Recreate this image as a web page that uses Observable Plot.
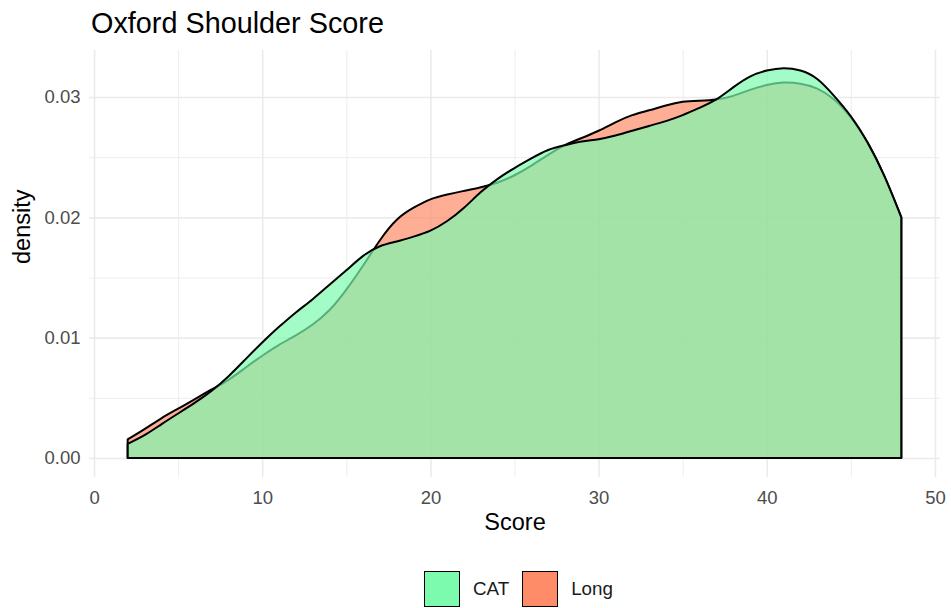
<!DOCTYPE html>
<html>
<head>
<meta charset="utf-8">
<script src="https://cdn.jsdelivr.net/npm/d3@7"></script>
<script src="https://cdn.jsdelivr.net/npm/@observablehq/plot@0.6"></script>
<style>
  body { margin: 0; background: #fff; font-family: "Liberation Sans", Arial, Helvetica, sans-serif; width: 951px; height: 608px; position: relative; overflow: hidden; }
  #title { position: absolute; left: 91px; top: 9px; font-size: 28.8px; line-height: 28.8px; color: #000; white-space: nowrap; }
  #chart { position: absolute; left: 0; top: 44px; }
  #legend { position: absolute; top: 571px; left: 424px; display: flex; align-items: center; font-size: 18.8px; color: #1a1a1a; }
  .key { width: 34px; height: 34px; border: 1.6px solid #000; }
  .lab { margin-left: 13px; margin-right: 13px; }
</style>
</head>
<body>
<div id="title">Oxford Shoulder Score</div>
<div id="chart"></div>
<div id="legend"></div>
<script>
// ---- data ----
const groups = ["CAT", "Long"];
const groupColors = ["#7CFAAE", "#FF8C69"];
const score = [2, 3, 4, 5, 6, 7, 8, 9, 10, 11, 12, 13, 14, 15, 16, 17, 18, 19, 20, 21, 22, 23, 24, 25,
  26, 27, 28, 29, 30, 31, 32, 33, 34, 35, 36, 37, 38, 39, 40, 41, 42, 43, 44, 45, 46, 47, 48];
const densityCAT = [0.00118, 0.0019, 0.0028, 0.0037, 0.0046, 0.0056, 0.0068, 0.0082, 0.0096, 0.0109,
  0.0121, 0.0132, 0.0144, 0.0156, 0.0168, 0.0176, 0.0180, 0.0184, 0.0189, 0.0197, 0.0208, 0.0221,
  0.0232, 0.0241, 0.0249, 0.0256, 0.0260, 0.0263, 0.0265, 0.0268, 0.0272, 0.0276, 0.0280, 0.0285,
  0.0291, 0.0298, 0.0308, 0.0317, 0.0322, 0.0324, 0.0322, 0.0315, 0.0301, 0.0284, 0.0262, 0.0234, 0.0200];
const densityLong = [0.00155, 0.0024, 0.0033, 0.0041, 0.0049, 0.0057, 0.0065, 0.0075, 0.0085, 0.0094,
  0.0102, 0.0111, 0.0123, 0.0140, 0.0160, 0.0181, 0.0198, 0.0208, 0.0215, 0.0219, 0.0222, 0.0225,
  0.0229, 0.0235, 0.0243, 0.0252, 0.0260, 0.0266, 0.0272, 0.0279, 0.0285, 0.0289, 0.0293, 0.0296,
  0.0297, 0.0298, 0.0301, 0.0306, 0.0310, 0.0312, 0.0311, 0.0307, 0.0298, 0.0283, 0.0262, 0.0234, 0.0200];
const xMajor = [0, 10, 20, 30, 40, 50];
const xMinor = [5, 15, 25, 35, 45];
const yMajor = [0, 0.01, 0.02, 0.03];
const yMinor = [0.005, 0.015, 0.025];
const xTitle = "Score";
const yTitle = "density";

// ---- build tables ----
const catData = score.map((s, i) => ({score: s, density: densityCAT[i], group: groups[0]}));
const longData = score.map((s, i) => ({score: s, density: densityLong[i], group: groups[1]}));

const gridColor = "#ebebeb";
const tickColor = "#4d4d4d";

const chart = Plot.plot({
  width: 951,
  height: 500,
  marginLeft: 89,
  marginRight: 11,
  marginTop: 6,
  marginBottom: 67,
  style: {fontFamily: "'Liberation Sans', Arial, Helvetica, sans-serif", background: "transparent"},
  x: {domain: [-0.3, 50.3]},
  y: {domain: [-0.00158, 0.03391]},
  color: {domain: groups, range: groupColors},
  marks: [
    Plot.ruleX(xMinor, {stroke: gridColor, strokeWidth: 0.9}),
    Plot.ruleY(yMinor, {stroke: gridColor, strokeWidth: 0.9}),
    Plot.ruleX(xMajor, {stroke: gridColor, strokeWidth: 1.6}),
    Plot.ruleY(yMajor, {stroke: gridColor, strokeWidth: 1.6}),
    Plot.areaY(longData, {x: "score", y: "density", fill: "group", fillOpacity: 0.7, stroke: "#000", strokeWidth: 2, curve: "natural"}),
    Plot.areaY(catData, {x: "score", y: "density", fill: "group", fillOpacity: 0.7, stroke: "#000", strokeWidth: 2, curve: "natural"}),
    Plot.axisX(xMajor, {tickSize: 0, tickPadding: 13, fontSize: 18.5, fill: tickColor, label: null, tickFormat: d => String(d)}),
    Plot.axisY(yMajor, {tickSize: 0, tickPadding: 9, fontSize: 18.5, fill: tickColor, label: null, tickFormat: d3.format(".2f")}),
    Plot.text([xTitle], {frameAnchor: "bottom", dy: 45, lineAnchor: "middle", fontSize: 23.5, fill: "#000"}),
    Plot.text([yTitle], {frameAnchor: "left", dx: -67, rotate: -90, lineAnchor: "middle", fontSize: 23.5, fill: "#000"})
  ]
});
document.getElementById("chart").appendChild(chart);

// ---- legend ----
const legend = document.getElementById("legend");
groups.forEach((g, i) => {
  const k = document.createElement("div");
  k.className = "key";
  k.style.background = groupColors[i];
  legend.appendChild(k);
  const t = document.createElement("span");
  t.className = "lab";
  t.textContent = g;
  legend.appendChild(t);
});
</script>
</body>
</html>
